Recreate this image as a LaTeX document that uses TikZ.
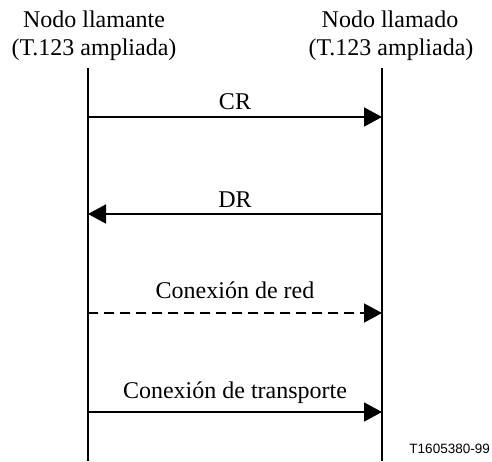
\documentclass[tikz,border=0pt]{standalone}
\usepackage{fontspec}
\setmainfont{Liberation Serif}
\newfontfamily\labelsans{Liberation Sans}
\usetikzlibrary{arrows.meta}
\begin{document}
\begin{tikzpicture}[x=1pt,y=-1pt,
  every node/.style={inner sep=0pt},
  lbl/.style={font=\fontsize{24}{29}\selectfont, anchor=base},
  msg/.style={line width=1.6pt, -{Triangle[length=18pt,width=19pt]}, shorten >=0pt},
  life/.style={line width=1.6pt}]
\useasboundingbox (0,0) rectangle (492,461);
% headers
\node[lbl] (hl1) at (94,27) {Nodo llamante};
\node[lbl] (hl2) at (94,55) {(T.123 ampliada)};
\node[lbl] (hr1) at (390,27) {Nodo llamado};
\node[lbl] (hr2) at (391,55) {(T.123 ampliada)};
% lifelines
\coordinate (Ltop) at (88,68);
\coordinate (Lbot) at (88,461);
\coordinate (Rtop) at (382,68);
\coordinate (Rbot) at (382,461);
\draw[life] (Ltop) -- (Lbot);
\draw[life] (Rtop) -- (Rbot);
% message endpoints
\coordinate (L1) at (88,117);  \coordinate (R1) at (382,117);
\coordinate (L2) at (88,214);  \coordinate (R2) at (382,214);
\coordinate (L3) at (88,313);  \coordinate (R3) at (382,313);
\coordinate (L4) at (88,412);  \coordinate (R4) at (382,412);
\draw[msg] (L1) -- (R1);
\draw[msg] (R2) -- (L2);
\draw[msg, dash pattern=on 10pt off 6pt] (L3) -- (R3);
\draw[msg] (L4) -- (R4);
\node[lbl] (m1) at (235,109) {CR};
\node[lbl] (m2) at (235,207) {DR};
\node[lbl] (m3) at (235,298) {Conexión de red};
\node[lbl] (m4) at (235,398) {Conexión de transporte};
\node[font=\labelsans\fontsize{13.5}{15}\selectfont, anchor=base east] (id) at (490,453) {T1605380-99};
\end{tikzpicture}
\end{document}
